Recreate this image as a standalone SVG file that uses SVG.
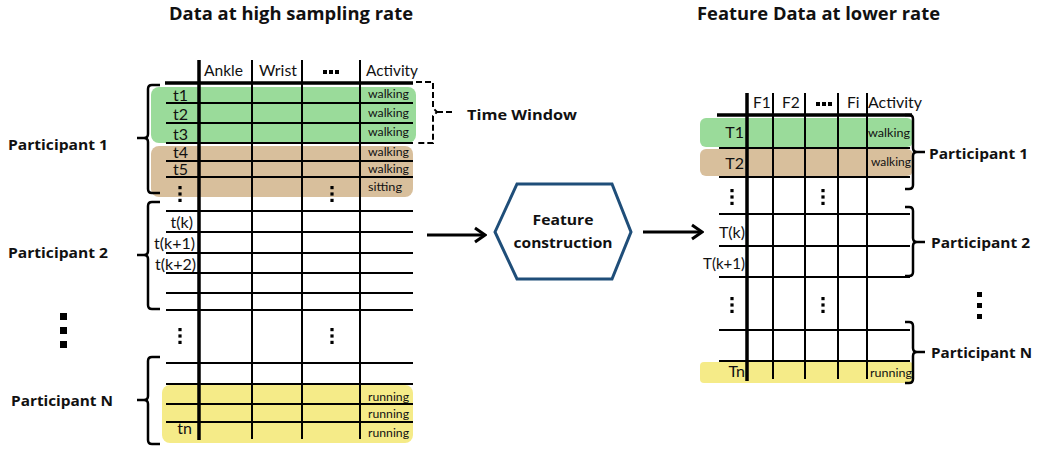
<svg xmlns="http://www.w3.org/2000/svg" width="1037" height="449" viewBox="0 0 1037 449">
<style>
text{font-family:Lato,"Liberation Sans",sans-serif;fill:#111}
.ttl{font-size:17px;font-weight:bold;font-family:"Open Sans","Liberation Sans",sans-serif}
.pl{font-size:15px;font-weight:bold;font-family:"Open Sans","Liberation Sans",sans-serif}
.cell{font-size:16px}
.hdr{font-size:15.5px}
.sm{font-size:12px}
.thin{stroke:#000;stroke-width:2;fill:none}
.thick{stroke:#000;stroke-width:3.5;fill:none}
.brace{stroke:#000;stroke-width:2.5;fill:none;stroke-linejoin:round}
.dash{stroke:#000;stroke-width:2;fill:none;stroke-dasharray:6 3}
.g{fill:#9ADB9A}
.t{fill:#D8BF9C}
.y{fill:#F5EB88}
.dot{fill:#000}
.arr{stroke:#000;stroke-width:3;fill:none;stroke-linecap:butt}
</style>
<defs>
<g id="vd"><rect x="-1.6" y="-8" width="3.2" height="3.2"/><rect x="-1.6" y="-1.6" width="3.2" height="3.2"/><rect x="-1.6" y="4.8" width="3.2" height="3.2"/></g>
<g id="hd"><rect x="-8" y="-2" width="4" height="4"/><rect x="-2" y="-2" width="4" height="4"/><rect x="4" y="-2" width="4" height="4"/></g>
<marker id="ah" viewBox="0 0 14 18" refX="12" refY="9" markerWidth="14" markerHeight="18" markerUnits="userSpaceOnUse" orient="auto"><path d="M2,2 L12,9 L2,16" fill="none" stroke="#000" stroke-width="3"/></marker>
</defs>

<g id="titles">
<text class="ttl" x="169" y="20" textLength="244" lengthAdjust="spacingAndGlyphs">Data at high sampling rate</text>
<text class="ttl" x="697" y="20" textLength="243" lengthAdjust="spacingAndGlyphs">Feature Data at lower rate</text>
</g>

<g id="table-high-rate">
<rect class="g" x="151" y="87" width="265" height="56" rx="8"/>
<rect class="t" x="151" y="146" width="262" height="51" rx="8"/>
<rect class="y" x="162" y="385" width="251" height="58" rx="8"/>
<g class="thin">
<path d="M166,103H413M166,123H413M166,143H413M166,161H413M166,177H413M166,211H413M166,232H413M166,253H413M166,273H413M166,293H413M166,310H413M166,363H413M166,384H413M166,404H413M166,422H413"/>
<path d="M252,60V439M302,60V439M360,60V439"/>
</g>
<path class="thick" d="M165,83H413M199,60V440"/>
<text class="hdr" x="204" y="76" textLength="39" lengthAdjust="spacingAndGlyphs">Ankle</text>
<text class="hdr" x="259" y="76" textLength="38" lengthAdjust="spacingAndGlyphs">Wrist</text>
<use href="#hd" x="331" y="72" class="dot"/>
<text class="hdr" x="366" y="76" textLength="52" lengthAdjust="spacingAndGlyphs">Activity</text>
<g class="cell" text-anchor="end">
<text x="188" y="101">t1</text>
<text x="188" y="120">t2</text>
<text x="188" y="140">t3</text>
<text x="188" y="158">t4</text>
<text x="188" y="175">t5</text>
<text x="193" y="228">t(k)</text>
<text x="195" y="249" textLength="41" lengthAdjust="spacingAndGlyphs">t(k+1)</text>
<text x="196" y="270" textLength="41" lengthAdjust="spacingAndGlyphs">t(k+2)</text>
<text x="192" y="434">tn</text>
</g>
<g class="sm">
<text x="368" y="98" textLength="41" lengthAdjust="spacingAndGlyphs">walking</text>
<text x="368" y="117" textLength="41" lengthAdjust="spacingAndGlyphs">walking</text>
<text x="368" y="136" textLength="41" lengthAdjust="spacingAndGlyphs">walking</text>
<text x="368" y="156" textLength="41" lengthAdjust="spacingAndGlyphs">walking</text>
<text x="368" y="173" textLength="41" lengthAdjust="spacingAndGlyphs">walking</text>
<text x="368" y="191" textLength="34" lengthAdjust="spacingAndGlyphs">sitting</text>
<text x="368" y="401" textLength="41" lengthAdjust="spacingAndGlyphs">running</text>
<text x="368" y="418" textLength="41" lengthAdjust="spacingAndGlyphs">running</text>
<text x="368" y="437" textLength="41" lengthAdjust="spacingAndGlyphs">running</text>
</g>
<g class="dot">
<use href="#vd" x="180" y="194"/>
<use href="#vd" x="332" y="194"/>
<use href="#vd" x="180" y="336"/>
<use href="#vd" x="332" y="336"/>
</g>
</g>

<g id="time-window">
<path class="dash" d="M416,82H433V108L437,112L433,116V143H416"/>
<path class="dash" d="M437,112H453"/>
<text class="pl" x="467" y="120" textLength="110" lengthAdjust="spacingAndGlyphs">Time Window</text>
</g>

<g id="participants-left">
<path class="brace" d="M160,85H152Q148,85 148,89V134Q148,138 144,138H137M144,138Q148,138 148,142V189Q148,193 152,193H160"/>
<path class="brace" d="M160,202H152Q148,202 148,206V251Q148,255 144,255H137M144,255Q148,255 148,259V305Q148,309 152,309H160"/>
<path class="brace" d="M160,357H152Q148,357 148,361V396Q148,400 144,400H137M144,400Q148,400 148,404V440Q148,444 152,444H160"/>
<text class="pl" x="8" y="150" textLength="100" lengthAdjust="spacingAndGlyphs">Participant 1</text>
<text class="pl" x="8" y="258" textLength="100" lengthAdjust="spacingAndGlyphs">Participant 2</text>
<text class="pl" x="11" y="406" textLength="102" lengthAdjust="spacingAndGlyphs">Participant N</text>
<g class="dot"><rect x="60" y="313" width="7" height="7"/><rect x="60" y="327" width="7" height="7"/><rect x="60" y="341" width="7" height="7"/></g>
</g>

<g id="feature-construction">
<polygon points="495,232 517,184 612,184 631,232 612,279 517,279" fill="#fff" stroke="#1F4E79" stroke-width="3"/>
<text class="pl" x="563" y="225" text-anchor="middle" textLength="61" lengthAdjust="spacingAndGlyphs">Feature</text>
<text class="pl" x="563" y="248" text-anchor="middle" textLength="99" lengthAdjust="spacingAndGlyphs">construction</text>
</g>

<g id="table-low-rate">
<rect class="g" x="700" y="118" width="213" height="29" rx="6"/>
<rect class="t" x="700" y="149" width="213" height="27" rx="6"/>
<rect class="y" x="700" y="362" width="213" height="21" rx="4"/>
<g class="thin">
<path d="M719,148H910M719,177H910M719,214H910M719,246H910M719,277H910M719,330H910M719,361H910"/>
<path d="M773,93V379M805,93V379M838,93V379M867,93V379"/>
</g>
<path class="thick" d="M717,115H912M747,93V381"/>
<text class="hdr" x="753" y="108">F1</text>
<text class="hdr" x="782" y="108">F2</text>
<use href="#hd" x="824" y="104" class="dot"/>
<text class="hdr" x="847" y="108">Fi</text>
<text class="hdr" x="868" y="108" textLength="54" lengthAdjust="spacingAndGlyphs">Activity</text>
<g class="cell" text-anchor="end">
<text x="744" y="138">T1</text>
<text x="744" y="169">T2</text>
<text x="745" y="238">T(k)</text>
<text x="745" y="269" textLength="42" lengthAdjust="spacingAndGlyphs">T(k+1)</text>
<text x="745" y="377">Tn</text>
</g>
<g class="sm">
<text x="868" y="137" textLength="42" lengthAdjust="spacingAndGlyphs">walking</text>
<text x="871" y="166" textLength="40" lengthAdjust="spacingAndGlyphs">walking</text>
<text x="870" y="377" textLength="42" lengthAdjust="spacingAndGlyphs">running</text>
</g>
<g class="dot">
<use href="#vd" x="732" y="197"/>
<use href="#vd" x="823" y="197"/>
<use href="#vd" x="732" y="305"/>
<use href="#vd" x="823" y="305"/>
</g>
</g>

<g id="participants-right">
<path class="brace" d="M905,115H909Q913,115 913,119V148Q913,152 917,152H925M917,152Q913,152 913,156V185Q913,189 909,189H905"/>
<path class="brace" d="M905,207H909Q913,207 913,211V238Q913,242 917,242H925M917,242Q913,242 913,246V272Q913,276 909,276H905"/>
<path class="brace" d="M905,322H909Q913,322 913,326V348Q913,352 917,352H925M917,352Q913,352 913,356V379Q913,383 909,383H905"/>
<text class="pl" x="929" y="159" textLength="99" lengthAdjust="spacingAndGlyphs">Participant 1</text>
<text class="pl" x="931" y="248" textLength="99" lengthAdjust="spacingAndGlyphs">Participant 2</text>
<text class="pl" x="931" y="358" textLength="101" lengthAdjust="spacingAndGlyphs">Participant N</text>
<g class="dot"><rect x="977" y="292" width="5" height="5"/><rect x="977" y="303" width="5" height="5"/><rect x="977" y="314" width="5" height="5"/></g>
</g>

<g id="connectors">
<path class="arr" d="M427,235H485" marker-end="url(#ah)"/>
<path class="arr" d="M643,232H702" marker-end="url(#ah)"/>
</g>
</svg>
